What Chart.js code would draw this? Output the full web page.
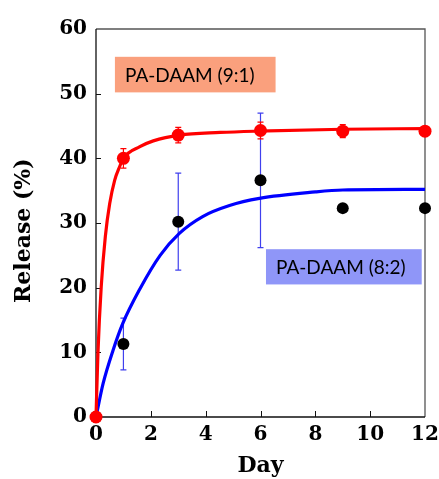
<!DOCTYPE html>
<html>
<head>
<meta charset="utf-8">
<script src="https://cdn.jsdelivr.net/npm/chart.js@4.4.1/dist/chart.umd.min.js"></script>
<style>
  html, body { margin: 0; padding: 0; background: #fff; }
  #wrap { width: 439px; height: 479px; }
</style>
</head>
<body>
<div id="wrap"><canvas id="release"></canvas></div>
<script>
// measured points
const days = [0, 1, 3, 6, 9, 12];
const release91 = [0, 40.0, 43.6, 44.3, 44.2, 44.2];
const err91 = [0, 1.5, 1.2, 1.3, 1.0, 0.7];
const release82 = [0, 11.3, 30.2, 36.6, 32.3, 32.3];
const err82 = [0, 4.0, 7.5, 10.4, 0, 0];

// fitted curves
const fitDays91 = [0, 0.07, 0.19, 0.34, 0.5, 0.68, 0.86, 1.0, 1.6, 2.09, 3.04, 4.53, 5.87, 9, 12];
const fit91 = [0, 9.8, 20.1, 27.9, 33.0, 36.6, 38.7, 40.0, 41.8, 42.7, 43.6, 44.0, 44.2, 44.5, 44.6];
const fitDays82 = [0, 0.26, 0.62, 0.97, 1.6, 2.34, 3.04, 3.89, 4.87, 5.96, 8, 9, 12];
const fit82 = [0, 5.2, 10.3, 14.4, 19.8, 25.0, 28.4, 31.0, 32.7, 33.8, 34.8, 35.1, 35.2];

const xTicks = [0, 2, 4, 6, 8, 10, 12];
const yTicks = [0, 10, 20, 30, 40, 50, 60];

const labels = [
  { text: "PA-DAAM (9:1)", x0: 0.69, x1: 6.55, y0: 50.2, y1: 55.7, color: "#faa07d" },
  { text: "PA-DAAM (8:2)", x0: 6.2, x1: 11.88, y0: 20.5, y1: 25.95, color: "#8f96f8" }
];

const toXY = (xs, ys) => xs.map((x, i) => ({ x, y: ys[i] }));

const tickFont = { family: "DejaVu Serif", weight: "bold", size: 20 };
const titleFont = { family: "DejaVu Serif", weight: "bold", size: 22 };

const errorBars = {
  id: "errorBars",
  beforeDatasetsDraw(chart) {
    const { ctx, scales: { x, y } } = chart;
    const draw = (vals, errs, color) => {
      ctx.save();
      ctx.strokeStyle = color;
      ctx.lineWidth = 1.2;
      days.forEach((d, i) => {
        if (!errs[i]) return;
        const px = x.getPixelForValue(d);
        const top = y.getPixelForValue(vals[i] + errs[i]);
        const bot = y.getPixelForValue(vals[i] - errs[i]);
        ctx.beginPath();
        ctx.moveTo(px, top); ctx.lineTo(px, bot);
        ctx.moveTo(px - 3, top); ctx.lineTo(px + 3, top);
        ctx.moveTo(px - 3, bot); ctx.lineTo(px + 3, bot);
        ctx.stroke();
      });
      ctx.restore();
    };
    draw(release82, err82, "#4040ee");
    draw(release91, err91, "#ff0000");
  }
};

const frame = {
  id: "frame",
  beforeDatasetsDraw(chart) {
    const { ctx, chartArea: a, scales: { x, y } } = chart;
    ctx.save();
    // label boxes
    labels.forEach((l) => {
      const left = x.getPixelForValue(l.x0);
      const right = x.getPixelForValue(l.x1);
      const top = y.getPixelForValue(l.y1);
      const bottom = y.getPixelForValue(l.y0);
      ctx.fillStyle = l.color;
      ctx.fillRect(left, top, right - left, bottom - top);
      ctx.fillStyle = "#000";
      ctx.font = "19px Lato";
      ctx.textBaseline = "middle";
      ctx.fillText(l.text, left + 10, (top + bottom) / 2 + 1);
    });
    // frame
    ctx.lineWidth = 1.3;
    ctx.strokeStyle = "#555";
    ctx.beginPath();
    ctx.moveTo(a.left, a.top); ctx.lineTo(a.right, a.top); ctx.lineTo(a.right, a.bottom);
    ctx.stroke();
    ctx.strokeStyle = "#111";
    ctx.beginPath();
    ctx.moveTo(a.left, a.top); ctx.lineTo(a.left, a.bottom); ctx.lineTo(a.right, a.bottom);
    ctx.stroke();
    // inward ticks
    ctx.lineWidth = 1;
    ctx.beginPath();
    xTicks.slice(1, -1).forEach((v) => {
      const px = Math.round(x.getPixelForValue(v)) + 0.5;
      ctx.moveTo(px, a.bottom); ctx.lineTo(px, a.bottom - 6);
    });
    yTicks.slice(1, -1).forEach((v) => {
      const py = Math.round(y.getPixelForValue(v)) + 0.5;
      ctx.moveTo(a.left, py); ctx.lineTo(a.left + 5, py);
    });
    ctx.stroke();
    ctx.restore();
  }
};

new Chart(document.getElementById("release"), {
  type: "line",
  data: {
    datasets: [
      {
        label: "9:1 data",
        data: toXY(days, release91),
        showLine: false,
        pointRadius: 6.5,
        pointBackgroundColor: "#ff0000",
        pointBorderWidth: 0,
        clip: false
      },
      {
        label: "8:2 data",
        data: toXY(days, release82),
        showLine: false,
        pointRadius: 6,
        pointBackgroundColor: "#000",
        pointBorderWidth: 0,
        clip: false
      },
      {
        label: "9:1 fit",
        data: toXY(fitDays91, fit91),
        borderColor: "#ff0000",
        borderWidth: 3.2,
        pointRadius: 0,
        cubicInterpolationMode: "monotone",
        clip: false
      },
      {
        label: "8:2 fit",
        data: toXY(fitDays82, fit82),
        borderColor: "#0000ff",
        borderWidth: 3.2,
        pointRadius: 0,
        cubicInterpolationMode: "monotone",
        clip: false
      }
    ]
  },
  options: {
    responsive: true,
    maintainAspectRatio: false,
    animation: false,
    layout: { padding: { top: 29, right: 14, left: 0, bottom: 0 } },
    plugins: { legend: { display: false }, tooltip: { enabled: false } },
    scales: {
      x: {
        type: "linear",
        min: 0,
        max: 12,
        afterBuildTicks: (s) => { s.ticks = xTicks.map((v) => ({ value: v })); },
        afterFit: (s) => { s.height = 62; s.paddingLeft = 0; s.paddingRight = 0; },
        grid: { display: false, drawTicks: false },
        border: { display: false },
        ticks: { color: "#000", font: tickFont, padding: 6, maxRotation: 0 },
        title: { display: true, text: "Day", color: "#000", font: titleFont, padding: { top: 0, bottom: 0 } }
      },
      y: {
        min: 0,
        max: 60,
        afterBuildTicks: (s) => { s.ticks = yTicks.map((v) => ({ value: v })); },
        afterFit: (s) => { s.width = 96; },
        grid: { display: false, drawTicks: false },
        border: { display: false },
        ticks: { color: "#000", font: tickFont, padding: 9 },
        title: { display: true, text: "Release (%)  ", color: "#000", font: titleFont, padding: { top: 11, bottom: 0 } }
      }
    }
  },
  plugins: [errorBars, frame]
});
</script>
</body>
</html>
